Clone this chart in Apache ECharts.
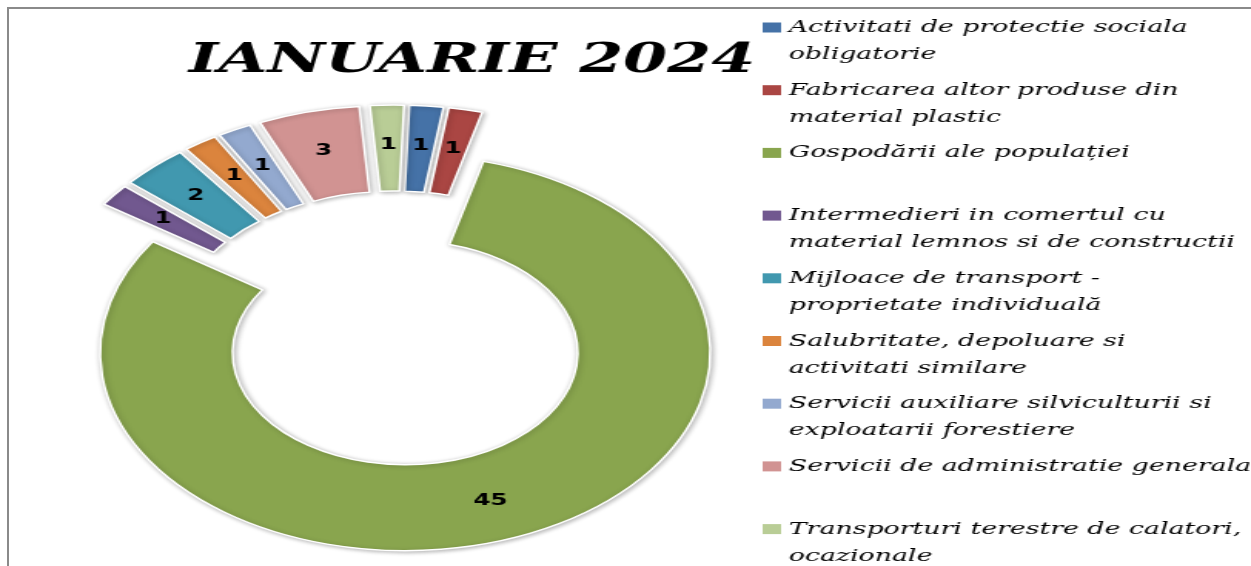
<!DOCTYPE html>
<html>
<head>
<meta charset="utf-8">
<title>IANUARIE 2024</title>
<style>
    html, body { margin: 0; padding: 0; background: #fff; overflow: hidden; }
    /* chenarul gri din stanga si de sus */
    #frame { position: absolute; left: 7px; top: 7px; width: 1250px; height: 565px;
             border-top: 2px solid #8a8a8a; border-left: 2px solid #8a8a8a; }
    /* graficul original e intins pe orizontala, deci il intindem si noi */
    #main { position: absolute; left: 0; top: 0; width: 812px; height: 566px;
            transform: scaleX(1.5406); transform-origin: 0 0; }
</style>
</head>
<body>
<div id="frame"></div>
<div id="main"></div>
<script src="https://cdn.jsdelivr.net/npm/echarts@6/dist/echarts.min.js"></script>
<script type="text/javascript">
    var titleText = 'IANUARIE 2024';

    var categories = [
        'Activitati de protectie sociala obligatorie',
        'Fabricarea altor produse din material plastic',
        'Gospodării ale populației',
        'Intermedieri in comertul cu material lemnos si de constructii',
        'Mijloace de transport - proprietate individuală',
        'Salubritate, depoluare si activitati similare',
        'Servicii auxiliare silviculturii si exploatarii forestiere',
        'Servicii de administratie generala',
        'Transporturi terestre de calatori, ocazionale'
    ];
    var values = [1, 1, 45, 1, 2, 1, 1, 3, 1];

    // textul din legenda, rupt pe doua randuri ca in original
    var legendLines = [
        'Activitati de protectie sociala\nobligatorie',
        'Fabricarea altor produse din\nmaterial plastic',
        'Gospodării ale populației\n ',
        'Intermedieri in comertul cu\nmaterial lemnos si de constructii',
        'Mijloace de transport -\nproprietate individuală',
        'Salubritate, depoluare si\nactivitati similare',
        'Servicii auxiliare silviculturii si\nexploatarii forestiere',
        'Servicii de administratie generala\n ',
        'Transporturi terestre de calatori,\nocazionale'
    ];
    var colors = ['#4572A7', '#AA4643', '#89A54E', '#71588F', '#4198AF',
                  '#DB843D', '#93A9CF', '#D19392', '#B9CD96'];
    var bigSlice = 'Gospodării ale populației';

    var lineH = 27;
    var hidden = { color: 'rgba(0,0,0,0)', borderWidth: 0, shadowBlur: 0, shadowColor: 'rgba(0,0,0,0)' };

    // doua inele suprapuse: felia mare si feliile mici au departari diferite fata de centru
    function ringData(showBig) {
        return categories.map(function (name, i) {
            var isBig = name === bigSlice;
            var item = { name: name, value: values[i], selected: true, itemStyle: { color: colors[i] } };
            if (isBig !== showBig) {
                item.itemStyle = hidden;
                item.label = { show: false };
                item.selected = false;
            }
            return item;
        });
    }

    var common = {
        type: 'pie',
        center: [256, 334],
        radius: [112, 198],
        startAngle: 88,
        clockwise: true,
        selectedMode: 'multiple',
        itemStyle: {
            borderColor: '#fff',
            borderWidth: 1.5,
            shadowBlur: 4,
            shadowColor: 'rgba(0,0,0,0.3)',
            shadowOffsetX: 1,
            shadowOffsetY: 1
        },
        label: {
            show: true,
            position: 'inside',
            formatter: '{c}',
            fontFamily: 'DejaVu Sans',
            fontWeight: 'bold',
            fontSize: 16,
            color: '#000'
        },
        labelLine: { show: false },
        emphasis: { disabled: true }
    };

    var myChart = echarts.init(document.getElementById('main'));
    var option = {
        animation: false,
        color: colors,
        title: {
            text: titleText,
            left: 122.5,
            top: 40.5,
            padding: 0,
            textStyle: {
                fontFamily: 'DejaVu Serif',
                fontStyle: 'italic',
                fontWeight: 'bold',
                fontSize: 41,
                color: '#000'
            }
        },
        legend: {
            orient: 'vertical',
            left: 495,
            top: -13,
            height: 700,
            padding: 0,
            itemGap: -18.3,
            itemWidth: 12,
            itemHeight: 10,
            icon: 'rect',
            selectedMode: false,
            data: categories.map(function (name, i) {
                return { name: name, itemStyle: { color: colors[i], borderWidth: 0, shadowBlur: 0 } };
            }),
            formatter: function (name) {
                // un rand gol inainte, ca patratelul sa stea in dreptul primului rand
                return ' \n' + legendLines[categories.indexOf(name)];
            },
            textStyle: {
                fontFamily: 'DejaVu Serif',
                fontStyle: 'italic',
                fontSize: 17.4,
                lineHeight: lineH,
                color: '#000'
            }
        },
        series: [
            echarts.util.merge({ name: 'mici', selectedOffset: 31, data: ringData(false) }, common),
            echarts.util.merge({ name: 'mare', selectedOffset: 20, data: ringData(true) }, common)
        ]
    };
    myChart.setOption(option);
</script>
</body>
</html>
